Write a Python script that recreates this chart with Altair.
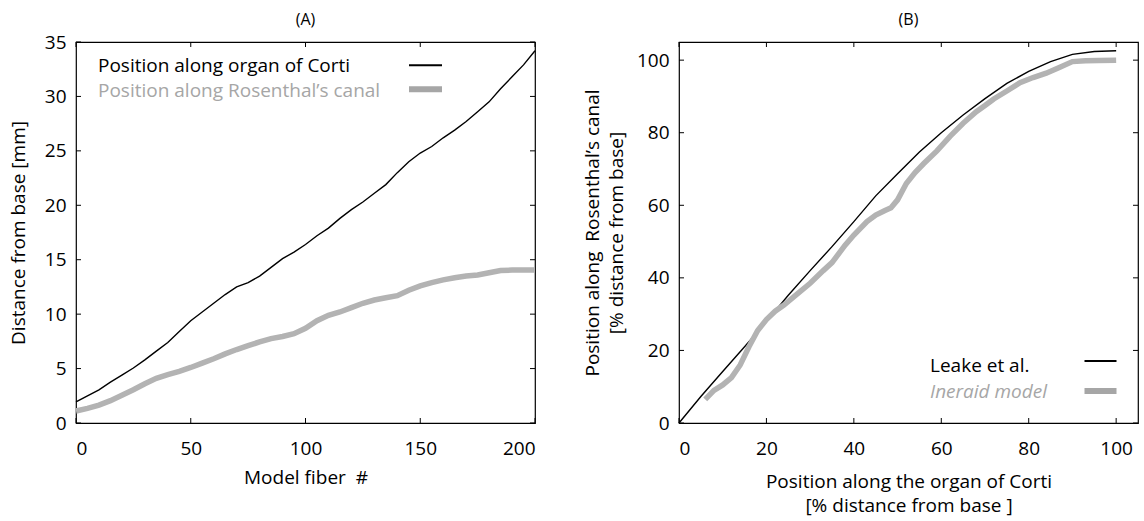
import altair as alt
import pandas as pd

# ---------------- Panel A: distance from base vs. model fiber ----------------
fiber = [0, 5, 10, 15, 20, 25, 30, 35, 40, 45, 50, 55, 60, 65, 70, 75, 80, 85, 90,
         95, 100, 105, 110, 115, 120, 125, 130, 135, 140, 145, 150, 155, 160, 165,
         170, 175, 180, 185, 190, 195, 200]
corti_mm = [1.95, 2.5, 3.05, 3.75, 4.4, 5.05, 5.8, 6.6, 7.4, 8.4, 9.4, 10.2, 11.0,
            11.8, 12.5, 12.9, 13.5, 14.3, 15.1, 15.7, 16.4, 17.2, 17.9, 18.8, 19.6,
            20.3, 21.1, 21.9, 23.0, 24.0, 24.8, 25.4, 26.2, 26.9, 27.7, 28.6, 29.5,
            30.7, 31.8, 32.9, 34.2]
rosenthal_mm = [1.1, 1.35, 1.65, 2.05, 2.55, 3.05, 3.6, 4.1, 4.45, 4.75, 5.1, 5.5,
                5.9, 6.35, 6.75, 7.1, 7.45, 7.75, 7.95, 8.2, 8.7, 9.4, 9.9, 10.2,
                10.6, 11.0, 11.3, 11.5, 11.7, 12.2, 12.6, 12.9, 13.15, 13.35, 13.5,
                13.6, 13.8, 14.0, 14.05, 14.05, 14.05]

a_xticks = [0, 50, 100, 150, 200]
a_yticks = [0, 5, 10, 15, 20, 25, 30, 35]

# ---------------- Panel B: Rosenthal's canal vs. organ of Corti (%) ----------------
leake_x = [0, 5, 10, 15, 20, 25, 30, 35, 40, 45, 50, 55, 60, 65, 70, 75, 80, 85, 90, 95, 100]
leake_y = [0, 7.3, 14.2, 21.0, 28.0, 35.2, 42.0, 48.6, 55.5, 62.6, 68.7, 74.7, 80.0,
           84.9, 89.4, 93.6, 96.9, 99.6, 101.6, 102.4, 102.6]
ineraid_x = [6, 8, 10, 12, 14, 16, 18, 20, 22, 24, 27, 30, 33, 35, 38, 40, 43, 45, 47,
             48.5, 50, 52, 54, 56, 59, 62, 65, 68, 70, 72, 75, 78, 81, 84, 87, 90, 93, 96, 100]
ineraid_y = [6.5, 9.0, 10.5, 12.5, 16.0, 21.0, 25.5, 28.5, 30.8, 32.5, 35.5, 38.5, 42.0,
             44.2, 49.0, 51.8, 55.5, 57.3, 58.5, 59.3, 61.5, 66.0, 69.0, 71.5, 75.0,
             79.0, 82.6, 85.8, 87.5, 89.3, 91.5, 93.8, 95.2, 96.4, 98.0, 99.6, 99.8,
             99.9, 100.0]

b_ticks = [0, 20, 40, 60, 80, 100]

FONT = "Open Sans"
FS = 19
W, H = 459, 381
TICK = 5
BLACK = "#000000"
GREY = "#b3b3b3"
GREY_TEXT = "#a6a6a6"
NB = "\u00a0"  # keeps the wide gaps inside axis titles


def frame_ticks(xf, yf, xs, ys, xaxis, yaxis, xticks, yticks):
    """Inward-pointing tick marks on all four sides of the frame."""
    xt = pd.DataFrame({xf: xticks})
    yt = pd.DataFrame({yf: yticks})
    enc_x = alt.X(f"{xf}:Q", scale=xs, axis=xaxis)
    enc_y = alt.Y(f"{yf}:Q", scale=ys, axis=yaxis)
    return [
        alt.Chart(xt).mark_rule(color=BLACK, strokeWidth=1).encode(
            x=enc_x, y=alt.value(H), y2=alt.value(H - TICK)),
        alt.Chart(xt).mark_rule(color=BLACK, strokeWidth=1).encode(
            x=enc_x, y=alt.value(0), y2=alt.value(TICK)),
        alt.Chart(yt).mark_rule(color=BLACK, strokeWidth=1).encode(
            y=enc_y, x=alt.value(0), x2=alt.value(TICK)),
        alt.Chart(yt).mark_rule(color=BLACK, strokeWidth=1).encode(
            y=enc_y, x=alt.value(W), x2=alt.value(W - TICK)),
    ]


def legend_item(label, color, tx, ty, lx1, lx2, ly, width, italic=False):
    """A text label followed by a short line sample to its right."""
    one = pd.DataFrame({"t": [label]})
    text = alt.Chart(one).mark_text(
        align="left", baseline="alphabetic", font=FONT, fontSize=FS,
        color=color, fontStyle="italic" if italic else "normal",
    ).encode(text="t:N", x=alt.value(tx), y=alt.value(ty))
    sample = alt.Chart(one).mark_rule(color=color, strokeWidth=width).encode(
        x=alt.value(lx1), x2=alt.value(lx2), y=alt.value(ly))
    return [text, sample]


def panel_title(label):
    """Panel letter centred above the frame."""
    one = pd.DataFrame({"t": [label]})
    return alt.Chart(one).mark_text(
        align="center", baseline="middle", font=FONT, fontSize=16, color=BLACK,
    ).encode(text="t:N", x=alt.value(W / 2), y=alt.value(-22))


# ---- Panel A ----
xs_a = alt.Scale(domain=[0, 200], nice=False, zero=False)
ys_a = alt.Scale(domain=[0, 35], nice=False, zero=False)

df_corti = pd.DataFrame({"fiber": fiber, "mm": corti_mm})
df_rosen = pd.DataFrame({"fiber": fiber, "mm": rosenthal_mm})

axis_xa = alt.Axis(values=a_xticks, title=f"Model fiber {NB}#", labelPadding=16, titlePadding=10)
axis_ya = alt.Axis(values=a_yticks, title="Distance from base [mm]", labelPadding=10, titlePadding=16)

line_corti = alt.Chart(df_corti).mark_line(color=BLACK, strokeWidth=1.4).encode(
    x=alt.X("fiber:Q", scale=xs_a, axis=axis_xa),
    y=alt.Y("mm:Q", scale=ys_a, axis=axis_ya),
)
line_rosen = alt.Chart(df_rosen).mark_line(color=GREY, strokeWidth=5.5).encode(
    x=alt.X("fiber:Q", scale=xs_a, axis=axis_xa),
    y=alt.Y("mm:Q", scale=ys_a, axis=axis_ya),
)

panel_a = alt.layer(
    line_corti, line_rosen,
    *frame_ticks("fiber", "mm", xs_a, ys_a, axis_xa, axis_ya, a_xticks, a_yticks),
    *legend_item("Position along organ of Corti", BLACK, 22, 29.6, 333, 366, 23.3, 2),
    *legend_item("Position along Rosenthal’s canal", GREY_TEXT, 22, 55.3, 333, 366, 47.3, 6),
    panel_title("(A)"),
).properties(width=W, height=H)

# ---- Panel B ----
xs_b = alt.Scale(domain=[0, 105], nice=False, zero=False)
ys_b = alt.Scale(domain=[0, 105], nice=False, zero=False)

df_leake = pd.DataFrame({"corti": leake_x, "rosen": leake_y})
df_ineraid = pd.DataFrame({"corti": ineraid_x, "rosen": ineraid_y})

axis_xb = alt.Axis(values=b_ticks,
                   title=["Position along the organ of Corti", "[% distance from base ]"],
                   labelPadding=16, titlePadding=14, titleLineHeight=24)
axis_yb = alt.Axis(values=b_ticks,
                   title=[f"Position along {NB}Rosenthal’s canal", "[% distance from base]"],
                   labelPadding=10, titlePadding=10, titleLineHeight=24)

line_leake = alt.Chart(df_leake).mark_line(color=BLACK, strokeWidth=1.4).encode(
    x=alt.X("corti:Q", scale=xs_b, axis=axis_xb),
    y=alt.Y("rosen:Q", scale=ys_b, axis=axis_yb),
)
line_ineraid = alt.Chart(df_ineraid).mark_line(color=GREY, strokeWidth=5.5).encode(
    x=alt.X("corti:Q", scale=xs_b, axis=axis_xb),
    y=alt.Y("rosen:Q", scale=ys_b, axis=axis_yb),
)

panel_b = alt.layer(
    line_leake, line_ineraid,
    *frame_ticks("corti", "rosen", xs_b, ys_b, axis_xb, axis_yb, b_ticks, b_ticks),
    *legend_item("Leake et al.", BLACK, 251, 330, 405.5, 437.5, 319, 2),
    *legend_item("Ineraid model", GREY_TEXT, 251, 355.6, 405.5, 437.5, 349, 6, italic=True),
    panel_title("(B)"),
).properties(width=W, height=H)

chart = alt.hconcat(panel_a, panel_b, spacing=144, bounds="flush").properties(
    padding={"left": 8, "top": 11, "right": 2, "bottom": 2},
    background="white",
).configure_view(
    stroke=BLACK, strokeWidth=1.2,
).configure_axis(
    grid=False, domain=False, ticks=False, tickSize=0,
    labelFont=FONT, labelFontSize=FS, labelColor=BLACK,
    titleFont=FONT, titleFontSize=FS, titleFontWeight="normal", titleColor=BLACK,
)

chart.save("out.html", embed_options={"renderer": "svg", "actions": False})
